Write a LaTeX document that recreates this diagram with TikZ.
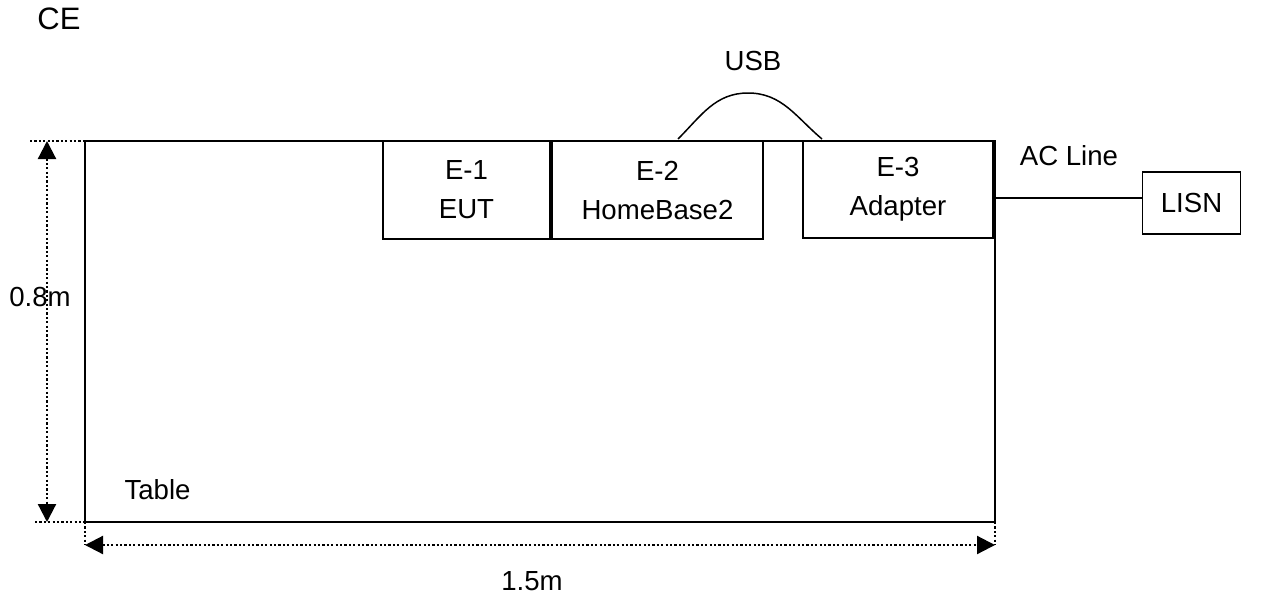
\documentclass[tikz,border=0pt]{standalone}
\usepackage{fontspec}
\setmainfont{Liberation Sans}
\usetikzlibrary{arrows.meta,calc}
\begin{document}
\begin{tikzpicture}[x=0.5pt,y=-0.5pt,
  every node/.style={font=\fontsize{13.8}{19.5}\selectfont},
  box/.style={draw,line width=0.75pt,inner sep=0pt,outer sep=0pt,align=center},
  solidline/.style={line width=0.75pt},
  dotline/.style={line width=1.1pt,dash pattern=on 1.1pt off 1.1pt},
  dimarrow/.style={dotline,{Triangle[length=9pt,width=9pt]}-{Triangle[length=9pt,width=9pt]}}]
\useasboundingbox (0,0) rectangle (1268,600);
% table
\node[box,line width=0.9pt,minimum width=455pt,minimum height=190.5pt] (table) at (540,331.5) {};
% equipment boxes
\node[box,minimum width=83.5pt,minimum height=49pt] (e1) at (466.5,190) {E-1\\EUT};
\node[box,minimum width=105.5pt,minimum height=49pt] (e2) at (657.5,190) {E-2\\HomeBase2};
\node[box,minimum width=95pt,minimum height=48.5pt] (e3) at (898,189.5) {E-3\\Adapter};
\node[box,minimum width=49pt,minimum height=31pt] (lisn) at (1191.5,203) {LISN};
% labels
\node[font=\fontsize{15.5}{18}\selectfont] (ce) at (59,19) {CE};
\node (usb) at (753,61) {USB};
\node (acline) at (1069,156) {AC Line};
\node (tablelbl) at (157.5,490) {Table};
\node (h) at (40,297) {0.8m};
\node (w) at (532,581) {1.5m};
% USB cable
\coordinate (usbA) at (678,139);
\coordinate (usbP) at (748,93);
\coordinate (usbB) at (822,139);
\draw[solidline] (usbA) to[out=45,in=180] (usbP) to[out=0,in=140] (usbB);
% AC line
\coordinate (acl) at (995,198);
\draw[solidline] (acl) -- (acl -| lisn.west);
% dimension lines
\coordinate (tl) at (30,141);
\coordinate (bl) at (35,522);
\coordinate (vt) at (47,141);
\coordinate (vb) at (47,522);
\draw[dotline] (tl) -- (table.north west);
\draw[dotline] (bl) -- (table.south west);
\draw[dimarrow] (vt) -- (vb);
\coordinate (hl) at (85,545);
\coordinate (hr) at (995,545);
\draw[dotline] (table.south west) -- (hl);
\draw[dotline] (table.south east) -- (hr);
\draw[dimarrow] (hl) -- (hr);
\end{tikzpicture}
\end{document}
